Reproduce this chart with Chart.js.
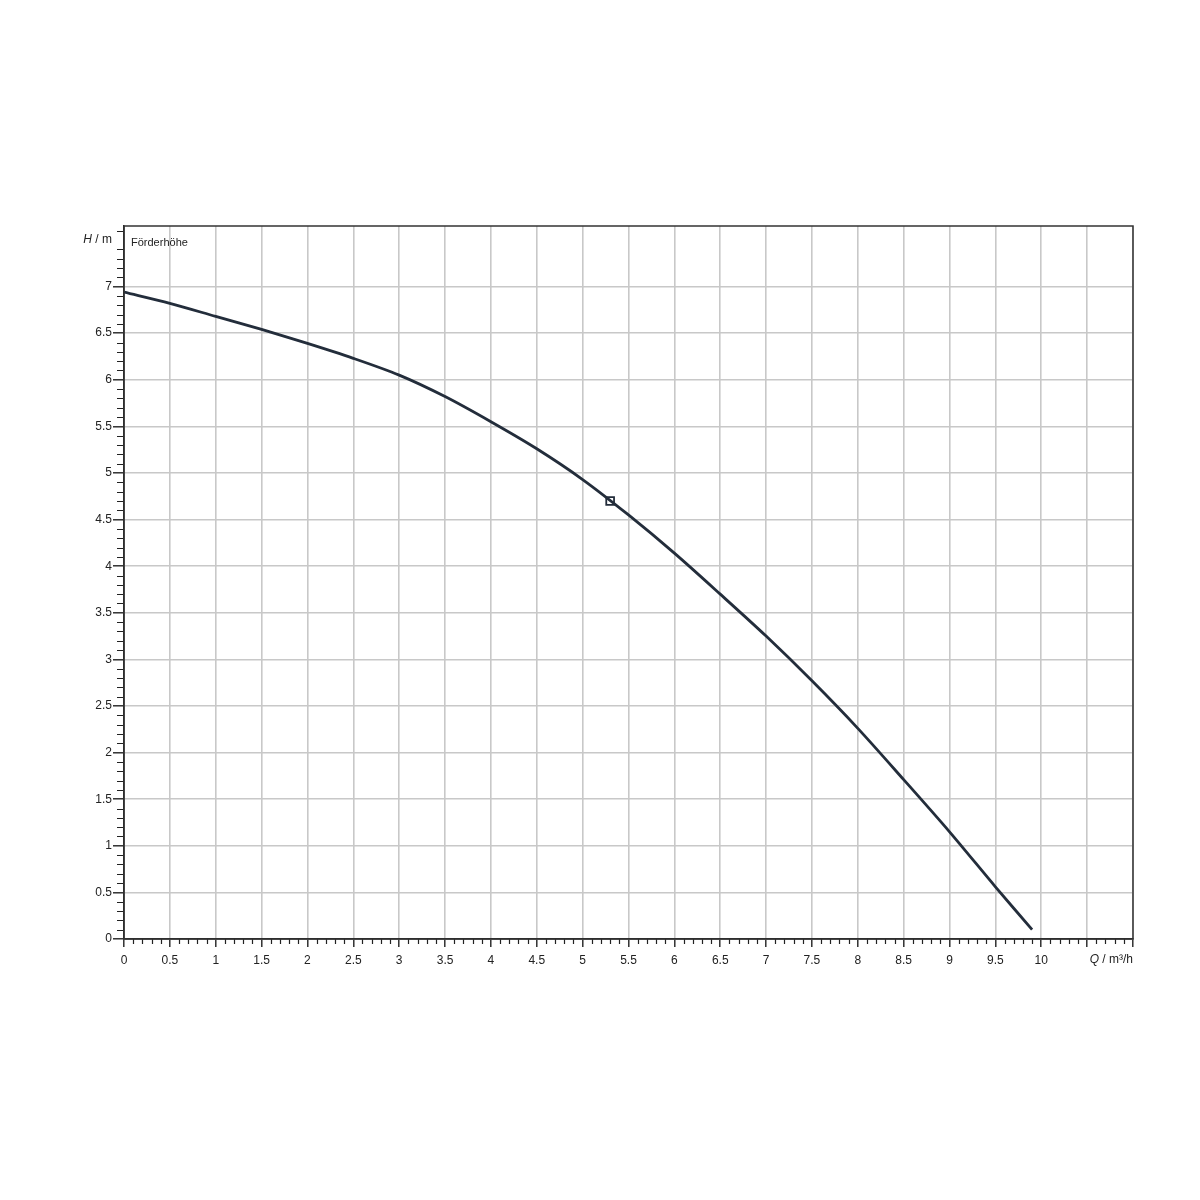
<!DOCTYPE html>
<html>
<head>
<meta charset="utf-8">
<script src="https://cdn.jsdelivr.net/npm/chart.js@4"></script>
<style>
  html, body { margin: 0; padding: 0; background: #fff; }
  canvas { display: block; }
</style>
</head>
<body>
<canvas id="pump-chart" width="1200" height="1200"></canvas>
<script>
// pump curve Q (m³/h) vs H (m)
const flowQ = [0, 0.5, 1, 1.5, 2, 2.5, 3, 3.5, 4, 4.5, 5, 5.5, 6, 6.5, 7, 7.5, 8, 8.5, 9, 9.5, 9.9]
const headH = [6.94, 6.82, 6.68, 6.54, 6.39, 6.23, 6.05, 5.82, 5.55, 5.26, 4.93, 4.55, 4.14, 3.70, 3.25, 2.77, 2.26, 1.71, 1.15, 0.56, 0.10]
const dutyPoint = [{ x: 5.3, y: 4.7 }]
const xMax = 11
const yMax = 7.65
const xLabelMax = 10
const yLabelMax = 7
const curveTitle = 'Förderhöhe'

const FONT = '"Liberation Sans", Arial, sans-serif'
const LINE_COLOR = '#232d3b'
const TEXT_COLOR = '#222'

const isHalf = (v) => Math.abs(v * 2 - Math.round(v * 2)) < 1e-6
const fmt = (v) => String(+v.toFixed(1))

const frameAndMinorTicks = {
  id: 'frameAndMinorTicks',
  afterDraw (chart) {
    const { ctx, chartArea: a, scales: { x, y } } = chart
    ctx.save()
    // minor ticks every 0.1
    ctx.strokeStyle = '#222'
    ctx.lineWidth = 1.2
    ctx.beginPath()
    for (let i = 0; i <= xMax * 10; i++) {
      const v = i / 10
      if (isHalf(v)) continue
      const px = Math.round(x.getPixelForValue(v)) + 0.5
      ctx.moveTo(px, a.bottom)
      ctx.lineTo(px, a.bottom + 5)
    }
    for (let i = 0; i <= Math.floor(yMax * 10); i++) {
      const v = i / 10
      if (isHalf(v)) continue
      const py = Math.round(y.getPixelForValue(v)) + 0.5
      ctx.moveTo(a.left - 7, py)
      ctx.lineTo(a.left, py)
    }
    ctx.stroke()
    // frame
    ctx.strokeStyle = '#333'
    ctx.lineWidth = 1.5
    ctx.strokeRect(a.left, a.top, a.right - a.left, a.bottom - a.top)
    // axis captions
    ctx.fillStyle = TEXT_COLOR
    ctx.textBaseline = 'middle'
    const yCap = y.getPixelForValue(7.5)
    ctx.font = 'italic 12px ' + FONT
    ctx.textAlign = 'left'
    const hW = ctx.measureText('H').width
    ctx.font = '12px ' + FONT
    const restW = ctx.measureText(' / m').width
    const hx = a.left - 12 - hW - restW
    ctx.font = 'italic 12px ' + FONT
    ctx.fillText('H', hx, yCap)
    ctx.font = '12px ' + FONT
    ctx.fillText(' / m', hx + hW, yCap)

    const xCapY = a.bottom + 21
    ctx.font = '12px ' + FONT
    const qRest = ' / m³/h'
    const qRestW = ctx.measureText(qRest).width
    ctx.font = 'italic 12px ' + FONT
    const qW = ctx.measureText('Q').width
    const qx = a.right - qRestW - qW
    ctx.fillText('Q', qx, xCapY)
    ctx.font = '12px ' + FONT
    ctx.fillText(qRest, qx + qW, xCapY)

    // curve title
    ctx.font = '11px ' + FONT
    ctx.fillText(curveTitle, a.left + 7, y.getPixelForValue(7.5) + 3)
    ctx.restore()
  }
}

new Chart(document.getElementById('pump-chart'), {
  type: 'scatter',
  data: {
    datasets: [
      {
        label: 'Förderhöhe',
        data: flowQ.map((q, i) => ({ x: q, y: headH[i] })),
        showLine: true,
        borderColor: LINE_COLOR,
        borderWidth: 2.8,
        pointRadius: 0,
        tension: 0.3
      },
      {
        label: 'Betriebspunkt',
        data: dutyPoint,
        showLine: false,
        pointStyle: 'rect',
        pointRadius: 5.5,
        pointBackgroundColor: '#fff',
        pointBorderColor: LINE_COLOR,
        pointBorderWidth: 1.8
      }
    ]
  },
  options: {
    responsive: false,
    animation: false,
    layout: { padding: { top: 226, right: 67, bottom: 0, left: 0 } },
    plugins: {
      legend: { display: false },
      tooltip: { enabled: false }
    },
    scales: {
      x: {
        type: 'linear',
        min: 0,
        max: xMax,
        afterFit: (s) => { s.height = 1200 - 939 },
        afterBuildTicks: (s) => { s.ticks = s.ticks.filter((t) => isHalf(t.value)) },
        ticks: {
          stepSize: 0.5,
          autoSkip: false,
          maxRotation: 0,
          padding: 6,
          color: TEXT_COLOR,
          font: { family: FONT, size: 12 },
          callback: (v) => (v <= xLabelMax ? fmt(v) : '')
        },
        grid: {
          color: '#c8c8c8',
          lineWidth: 1.6,
          tickColor: '#222',
          tickLength: 8,
          tickWidth: 1.4
        },
        border: { color: '#222', width: 1.5 }
      },
      y: {
        type: 'linear',
        min: 0,
        max: yMax,
        afterFit: (s) => { s.width = 124 },
        afterBuildTicks: (s) => { s.ticks = s.ticks.filter((t) => isHalf(t.value)) },
        ticks: {
          stepSize: 0.5,
          autoSkip: false,
          padding: 1,
          color: TEXT_COLOR,
          font: { family: FONT, size: 12 },
          callback: (v) => (v <= yLabelMax ? fmt(v) : '')
        },
        grid: {
          color: '#c8c8c8',
          lineWidth: 1.6,
          tickColor: '#222',
          tickLength: 11,
          tickWidth: 1.4
        },
        border: { color: '#222', width: 1.5 }
      }
    }
  },
  plugins: [frameAndMinorTicks]
})
</script>
</body>
</html>
